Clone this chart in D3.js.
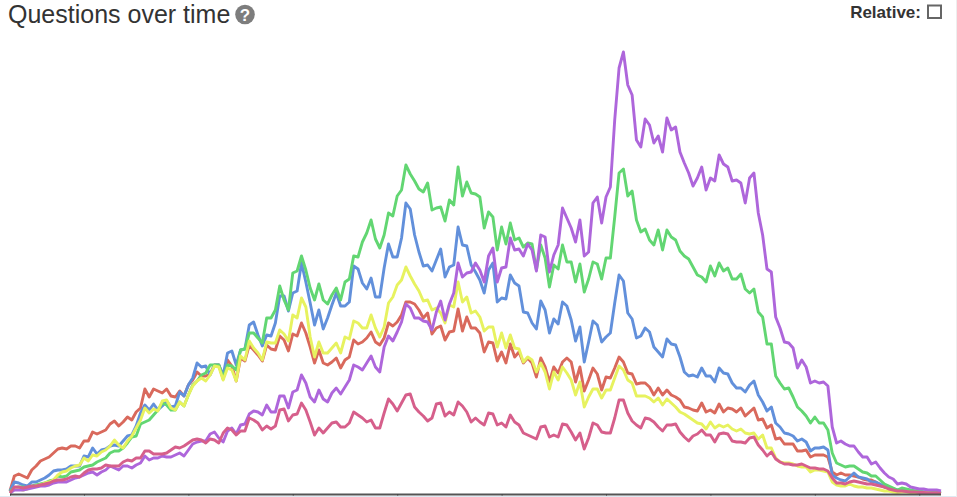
<!DOCTYPE html>
<html><head><meta charset="utf-8">
<script src="https://cdn.jsdelivr.net/npm/d3@7/dist/d3.min.js"></script>
<style>html,body{margin:0;padding:0;background:#fff;overflow:hidden}svg{display:block}</style>
</head><body><svg id="c" width="957" height="497"></svg>
<script>
const red=[3,18,20,18,16,24,28,33,35,37,41,45,46,45,48,48,46,53,53,62,60,62,64,70,73,68,72,77,74,82,86,105,97,105,103,101,105,98,97,103,98,109,114,122,118,118,120,129,129,115,134,128,113,136,133,149,144,139,133,149,145,144,158,154,143,160,158,171,161,147,131,144,131,129,132,136,126,134,137,154,150,152,156,162,152,149,156,171,168,172,179,192,192,190,184,176,181,160,166,168,154,162,163,185,163,177,166,166,161,142,152,151,133,142,131,150,137,142,131,136,131,117,136,127,112,127,121,132,136,132,112,127,103,114,126,120,104,117,116,126,137,132,121,120,110,111,111,107,99,106,99,104,99,97,94,87,86,84,83,91,82,84,81,90,82,86,85,82,86,78,82,86,74,75,66,69,55,56,50,50,50,43,43,44,37,39,39,39,37,22,19,21,19,19,18,17,15,14,14,12,9,7,6,4,3.5,3,3,2,2,2,1.5,1.5,1,1,0.5];
const blue=[3,12,11,9,8,12,12,14,16,19,23,24,24,25,28,28,28,38,37,46,40,44,45,48,49,48,53,58,59,68,81,89,84,90,84,88,93,87,88,102,98,109,116,131,127,128,119,129,129,119,141,143,129,144,145,169,172,159,148,159,158,171,198,198,183,201,203,231,212,191,169,184,165,176,189,201,188,188,192,228,225,211,205,216,197,197,226,250,237,237,256,291,285,259,242,228,229,223,234,245,217,227,229,267,249,248,229,222,214,201,224,231,192,196,195,219,211,208,182,181,171,165,193,184,161,175,170,192,188,174,153,167,132,152,173,169,152,157,161,191,219,213,181,175,156,158,166,162,147,142,137,155,150,149,137,122,118,119,117,126,118,118,112,126,121,120,111,106,106,102,109,113,99,92,83,87,71,67,61,60,58,53,55,52,43,46,46,47,44,19,16,14,13,17,21,17,16,15,12,12,10,7,6,5,4,4,3.5,3,3,2.5,2,2,2,1.5,1];
const green=[3,6,7,7,6,8,9,10,11,13,14,18,17,18,22,23,24,27,28,29,32,34,36,41,43,43,46,51,57,58,70,72,74,79,84,91,89,84,84,92,88,99,109,113,119,121,129,129,129,116,129,128,124,144,145,161,161,156,151,176,176,184,208,194,184,221,223,238,224,206,194,210,194,190,199,206,194,212,215,238,237,252,261,274,255,246,259,281,278,298,304,329,320,313,305,302,311,284,286,287,273,294,289,327,298,312,301,300,297,266,282,277,244,267,250,271,254,256,247,251,250,224,249,236,207,229,225,249,232,232,212,230,202,215,232,230,215,236,236,277,321,325,298,303,274,262,265,254,249,264,244,264,257,254,243,238,235,227,219,217,212,228,218,231,223,226,215,215,220,205,201,205,182,177,150,150,118,111,105,106,97,87,83,78,71,77,71,71,64,41,31,29,27,28,28,25,22,21,18,18,14,10,8,6,4,6,5,4,3,3,2,2,2,2,1];
const yellow=[1,5,5,4,5,7,8,9,11,12,14,19,22,23,26,28,29,36,33,39,38,42,44,48,54,49,46,53,58,66,74,86,81,85,83,93,94,86,84,92,88,99,108,113,116,113,119,128,127,114,126,124,113,138,134,153,146,141,134,152,151,151,164,160,153,179,176,196,187,157,137,152,141,141,146,151,141,157,155,173,171,166,166,179,166,157,167,191,197,209,214,227,218,210,203,193,194,184,186,181,171,189,187,212,192,197,181,183,177,163,167,167,147,161,146,159,146,145,132,137,134,122,131,122,105,122,114,127,121,114,99,112,87,97,105,105,96,104,104,116,128,124,114,111,98,98,98,96,92,96,89,95,91,87,82,80,77,74,71,70,65,72,66,69,67,69,65,63,65,61,60,61,55,59,46,46,36,32,31,31,30,28,27,27,22,24,24,23,22,12,9,8,8,10,8,7,7,6,6,5,4,3,3,2,1.5,2,2,1.5,1,1,1,1,0.5,0.5,0.3];
const purple=[1,4,4,4,5,6,7,8,8,9,11,12,12,12,14,16,17,19,21,22,19,22,24,28,26,24,28,28,26,29,31,38,34,36,36,38,37,37,39,41,38,44,50,52,53,53,60,62,56,52,63,66,60,69,70,80,83,82,79,89,82,82,98,98,86,102,104,119,111,97,92,104,95,92,101,106,100,107,114,129,127,124,131,138,127,122,147,158,153,162,172,190,186,176,176,173,172,164,182,193,174,190,201,231,217,221,222,231,224,212,238,246,212,226,227,256,244,245,238,250,244,223,259,257,222,239,249,286,276,266,252,274,238,242,291,297,271,297,307,374,426,442,409,399,354,347,375,369,351,358,342,376,364,367,342,331,321,308,316,327,304,316,313,339,330,327,313,314,311,291,316,321,281,259,225,222,177,166,152,151,146,126,134,127,111,113,111,112,108,67,51,53,50,48,48,42,37,37,30,32,26,21,17,15,10,11,10,7,6,5,5,4,4,4,3];
const pink=[1,7,7,6,7,8,8,9,10,11,13,14,14,15,17,18,17,21,24,25,25,26,29,28,28,28,32,34,33,36,36,43,43,40,40,40,41,44,47,46,48,51,54,55,54,51,55,54,51,61,66,64,59,63,63,76,74,71,64,68,65,68,84,85,73,79,80,91,84,72,59,66,61,66,71,72,67,67,71,82,79,76,72,74,66,66,81,95,90,83,91,99,100,87,82,78,73,76,90,91,78,82,79,92,88,82,72,76,72,69,81,80,69,71,67,79,72,69,61,59,57,55,67,68,57,59,57,70,69,62,54,61,45,56,71,69,62,61,61,76,94,94,81,73,69,66,76,75,72,67,63,69,69,70,62,57,53,58,60,64,59,59,52,60,61,60,53,52,52,51,56,57,49,44,38,42,35,32,30,30,29,29,30,28,26,26,25,25,23,16,11,11,10,12,13,12,11,10,10,9,8,7,5,4,3,3,2.5,2,2,1.5,1.5,1,1,1,0.5];
const seriesNames=["red","blue","green","yellow","purple","pink"];
const seriesValues=[red,blue,green,yellow,purple,pink];
const seriesColors=["#d9695c","#6290db","#62d672","#e7f25f","#ae66db","#d65f8b"];
const tickIndex=[0,17,41,65,89,113,137,161,185,209];

const svg=d3.select("#c");
svg.append("rect").attr("x",0).attr("y",496).attr("width",957).attr("height",1).attr("fill","#dfe9f2");
svg.append("rect").attr("x",956).attr("y",0).attr("width",1).attr("height",497).attr("fill","#eeeeee");

const x=d3.scaleLinear().domain([0,214]).range([10,941]);
const y=d3.scaleLinear().domain([0,442]).range([494,52]);
const line=d3.line().x((d,i)=>x(i)).y(d=>y(d));

svg.selectAll("path.s").data(seriesValues).join("path")
  .attr("class","s").attr("d",line).attr("fill","none")
  .attr("stroke",(d,i)=>seriesColors[i]).attr("stroke-width",2.9).attr("stroke-linejoin","round");

const ax=svg.append("g").attr("transform","translate(0,494.5)")
  .call(d3.axisBottom(x).tickValues(tickIndex).tickSize(1).tickFormat(""));
ax.select(".domain").attr("stroke","#555").attr("stroke-width",2).attr("d","M10,0H941");
ax.selectAll("line").attr("stroke","#333");

svg.append("text").attr("x",8).attr("y",23).attr("font-family","'Liberation Sans',Arial,sans-serif")
  .attr("font-size",25).attr("fill","#333").text("Questions over time");
svg.append("circle").attr("cx",245).attr("cy",14.5).attr("r",9.8).attr("fill","#7d7d7d");
svg.append("text").attr("x",245).attr("y",20.5).attr("text-anchor","middle").attr("font-family","'Liberation Sans',Arial,sans-serif")
  .attr("font-weight","bold").attr("font-size",17).attr("fill","#fff").text("?");
svg.append("text").attr("x",921).attr("y",17.5).attr("text-anchor","end").attr("font-family","'Liberation Sans',Arial,sans-serif")
  .attr("font-weight","bold").attr("font-size",17).attr("fill","#333").text("Relative:");
svg.append("rect").attr("x",928).attr("y",5.5).attr("width",13).attr("height",12.5).attr("fill","#fff").attr("stroke","#666").attr("stroke-width",2);
</script></body></html>
